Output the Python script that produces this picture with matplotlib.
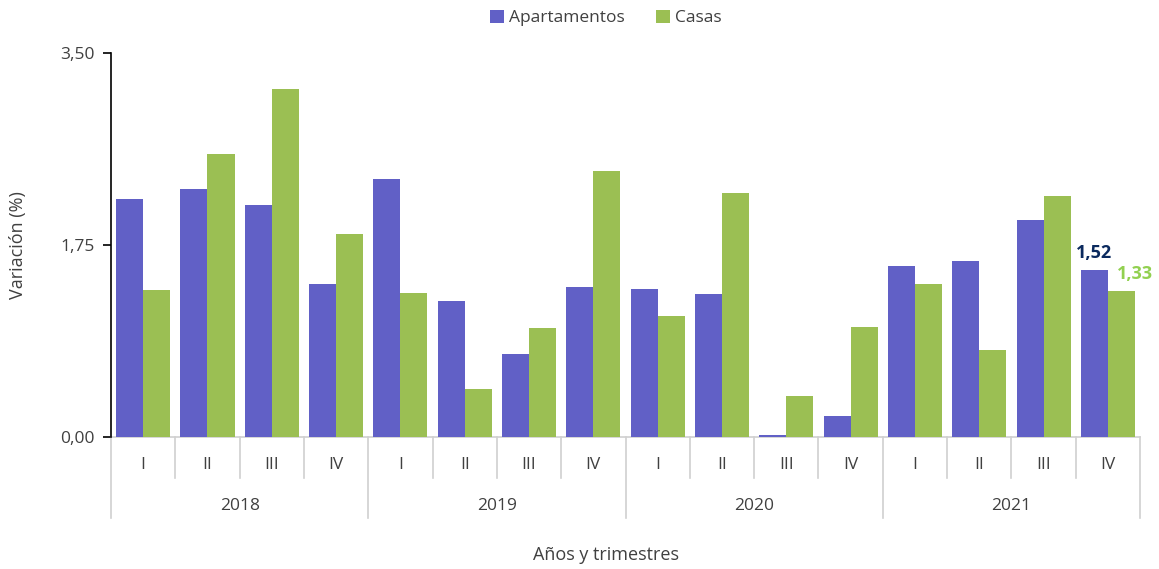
import matplotlib
matplotlib.use("Agg")
import matplotlib.pyplot as plt
from matplotlib.transforms import blended_transform_factory
import numpy as np

years = ["2018", "2019", "2020", "2021"]
quarters = ["I", "II", "III", "IV"]
apartamentos = [2.17, 2.26, 2.11, 1.39,
                2.35, 1.24, 0.76, 1.37,
                1.35, 1.30, 0.02, 0.19,
                1.56, 1.60, 1.98, 1.52]
casas = [1.34, 2.58, 3.17, 1.85,
         1.31, 0.44, 0.99, 2.42,
         1.10, 2.22, 0.37, 1.00,
         1.39, 0.79, 2.20, 1.33]
yticks = [0.0, 1.75, 3.5]
ytick_labels = ["0,00", "1,75", "3,50"]

plt.rcParams['font.family'] = ['Open Sans', 'DejaVu Sans']
txt = "#404040"
c_apt = "#6160C6"
c_cas = "#9BBF53"

fig = plt.figure(figsize=(11.59, 5.69), dpi=100)
ax = fig.add_axes([0.0958, 0.232, 0.8878, 0.6749])

n = len(apartamentos)
x = np.arange(n)
w = 0.42
ax.bar(x - w/2, apartamentos, w, color=c_apt, label="Apartamentos", zorder=3)
ax.bar(x + w/2, casas, w, color=c_cas, label="Casas", zorder=3)

ax.set_xlim(-0.5, n - 0.5)
ax.set_ylim(0, 3.5)
ax.set_yticks(yticks)
ax.set_yticklabels(ytick_labels, fontsize=12.5, color=txt)
ax.tick_params(axis='y', length=6, width=1.2, color='black', pad=6)
ax.set_xticks([])

for s in ['top', 'right']:
    ax.spines[s].set_visible(False)
ax.spines['left'].set_color('black')
ax.spines['left'].set_linewidth(1.2)
ax.spines['bottom'].set_color('#D0D0D0')
ax.spines['bottom'].set_linewidth(1.2)
ax.spines['bottom'].set_zorder(1)

ax.set_ylabel("Variación (%)", fontsize=13, color=txt, labelpad=24)

trans = blended_transform_factory(ax.transData, ax.transAxes)
h = 384.0  # axes height px
for i in range(n + 1):
    xp = i - 0.5
    if i % 4 == 0:
        y1 = -(518 - 437) / h
    else:
        y1 = -(478 - 437) / h
    ax.plot([xp, xp], [0.0, y1], transform=trans, color='#D0D0D0',
            lw=1.2, clip_on=False)

for i in range(n):
    ax.text(i, -(465 - 437) / h, quarters[i % 4], transform=trans,
            ha='center', va='center', fontsize=12.5, color=txt)
for j, yr in enumerate(years):
    ax.text(4 * j + 1.5, -(506 - 437) / h, yr, transform=trans,
            ha='center', va='center', fontsize=12.5, color=txt)

fig.text(0.523, 1 - 555 / 569, "Años y trimestres", ha='center', va='center',
         fontsize=13, color=txt)

# annotations for last values
ax.annotate("1,52", (n - 1 - w/2, apartamentos[-1]), xytext=(0, 6),
            textcoords='offset points', ha='center', va='bottom',
            fontsize=13, fontweight='bold', color='#0B2A5E')
ax.annotate("1,33", (n - 1 + w/2, casas[-1]), xytext=(10, 6),
            textcoords='offset points', ha='center', va='bottom',
            fontsize=13, fontweight='bold', color='#92D050')

leg = fig.legend(loc='center', bbox_to_anchor=(0.523, 1 - 18 / 569), ncol=2,
                 frameon=False, fontsize=12.5, handlelength=0.8,
                 handleheight=0.8, handletextpad=0.3, columnspacing=1.8)
for t in leg.get_texts():
    t.set_color(txt)

fig.savefig("out.png", dpi=100)
